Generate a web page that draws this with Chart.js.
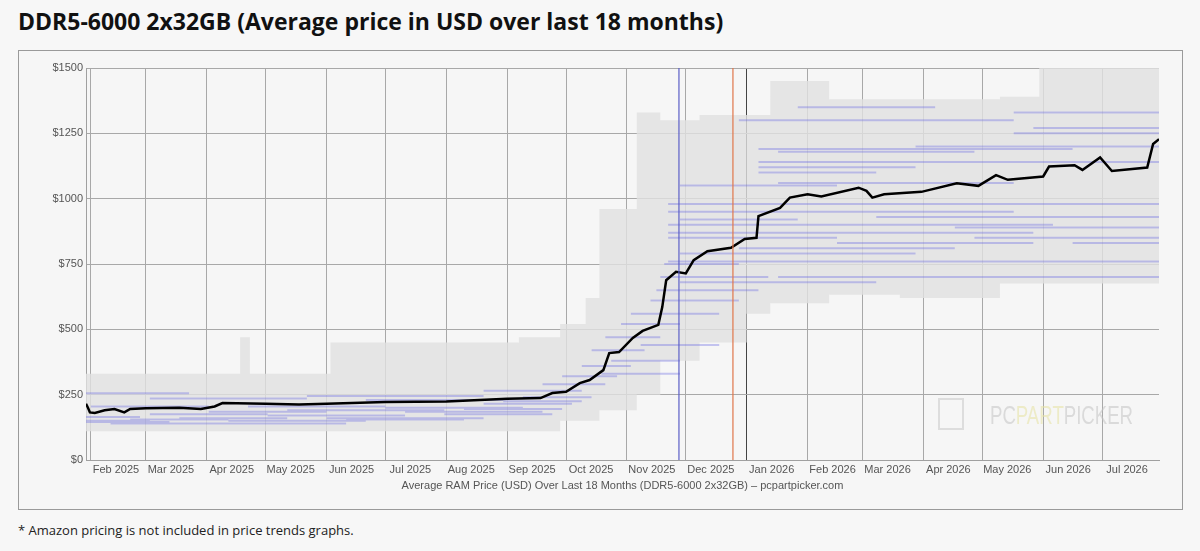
<!DOCTYPE html>
<html>
<head>
<meta charset="utf-8">
<script src="https://cdn.jsdelivr.net/npm/chart.js@4"></script>
<style>
  body { margin: 0; background: #f7f7f7; font-family: "Open Sans", sans-serif; }
  h1 { position: absolute; left: 18px; top: 5px; margin: 0; font-size: 23px; font-weight: 700; color: #111; }
  #box { position: absolute; left: 18px; top: 50px; width: 1163px; height: 458px; border: 1px solid #9a9a9a; background: #f6f6f6; }
  #note { position: absolute; left: 18px; top: 521px; font-size: 13px; color: #222; }
</style>
</head>
<body>
<h1>DDR5-6000 2x32GB (Average price in USD over last 18 months)</h1>
<div id="box"><canvas id="c" width="1163" height="458"></canvas></div>
<div id="note">* Amazon pricing is not included in price trends graphs.</div>
<script>
// x values are days since 1 Feb 2025
const monthDays = [0, 28, 59, 89, 120, 150, 181, 212, 242, 273, 303, 334, 365, 393, 424, 454, 485, 515];
const monthLabels = ['Feb 2025', 'Mar 2025', 'Apr 2025', 'May 2025', 'Jun 2025', 'Jul 2025', 'Aug 2025', 'Sep 2025',
  'Oct 2025', 'Nov 2025', 'Dec 2025', 'Jan 2026', 'Feb 2026', 'Mar 2026', 'Apr 2026', 'May 2026', 'Jun 2026', 'Jul 2026'];
const yTicks = [0, 250, 500, 750, 1000, 1250, 1500];

const avgDays = [-2.5, -1.5, -0.5, 2, 7, 12, 17, 20, 28, 45, 56, 63, 67, 89, 106, 120, 150, 181, 212, 229, 235, 242, 249,
  254, 261, 264, 269, 276, 281, 289, 291, 293, 298, 303, 307, 314, 326, 333, 339, 340, 351, 356, 365, 372, 391, 395, 398, 404,
  423, 441, 452, 461, 467, 485, 488, 501, 505, 514, 520, 538, 541, 544];
const avgPrice = [215, 200, 182, 180, 190, 195, 182, 195, 198, 200, 195, 205, 218, 215, 212, 215, 222, 224, 234, 237, 256,
  261, 294, 306, 344, 409, 413, 467, 494, 517, 585, 688, 720, 714, 765, 799, 812, 846, 850, 933, 965, 1004, 1017, 1008,
  1042, 1030, 1004, 1017, 1026, 1059, 1049, 1090, 1072, 1085, 1123, 1128, 1110, 1158, 1106, 1119, 1209, 1228];

// price range envelope (step changes)
const bandDays = [-2.5, 20, 63, 76, 81, 122, 218, 239, 252, 259, 267, 278, 290, 310, 334, 346, 376, 412, 463, 483, 544];
const bandMax = [330, 330, 330, 470, 330, 450, 470, 520, 620, 960, 960, 1330, 1300, 1320, 1320, 1450, 1380, 1380, 1390, 1500, 1500];
const bandMin = [110, 110, 110, 110, 110, 110, 110, 150, 150, 190, 190, 250, 380, 450, 560, 600, 632, 620, 675, 675, 675];

// individual listing prices: [start day, end day, price]
const listings = [
  [-2.5, 30, 150], [-2.5, 25, 165], [10, 60, 140], [30, 90, 175], [60, 120, 185], [90, 160, 170], [100, 180, 190],
  [120, 200, 160], [150, 220, 200], [180, 235, 175], [200, 245, 215], [-2.5, 50, 255], [30, 110, 235], [110, 200, 245],
  [-2.5, 40, 145], [20, 70, 155], [45, 100, 160], [70, 140, 150], [130, 190, 155], [160, 230, 185], [190, 240, 195],
  [80, 150, 205], [140, 210, 230], [210, 250, 225], [60, 130, 140], [0, 60, 205], [220, 255, 240],
  [200, 250, 265], [230, 262, 290], [240, 268, 320], [250, 275, 360], [255, 282, 420], [262, 290, 470], [270, 300, 520],
  [275, 320, 560], [285, 330, 610], [288, 340, 650], [290, 345, 700], [292, 330, 750], [294, 500, 760], [300, 420, 790],
  [294, 380, 850], [294, 480, 870], [294, 490, 900], [294, 470, 950], [294, 544, 980], [340, 400, 1100], [340, 544, 1140],
  [340, 500, 1190], [420, 544, 1200], [480, 544, 1270], [470, 544, 1250], [350, 450, 1180], [450, 544, 850],
  [500, 544, 830], [300, 400, 680], [330, 544, 760], [340, 420, 1120], [400, 544, 930], [300, 380, 1050],
  [350, 470, 1060], [330, 440, 810], [380, 480, 830], [440, 544, 890], [300, 360, 920], [360, 430, 1350],
  [330, 470, 1300], [470, 544, 1330], [260, 300, 330], [265, 300, 380], [280, 320, 440], [350, 544, 700]
];

const markerBlue = 299.5;
const markerOrange = 327;

function steps(days, vals) {
  const out = [];
  for (let i = 0; i < days.length - 1; i++) {
    out.push({ x: days[i], y: vals[i] }, { x: days[i + 1], y: vals[i] });
  }
  return out;
}
const listingPts = [];
listings.forEach(([a, b, p]) => {
  listingPts.push({ x: a, y: p }, { x: b, y: p }, { x: b, y: null });
});

const watermark = {
  id: 'watermark',
  afterDatasetsDraw(chart) {
    const ctx = chart.ctx;
    ctx.save();
    ctx.strokeStyle = 'rgba(190,190,190,0.45)';
    ctx.lineWidth = 2;
    ctx.strokeRect(920, 348, 24, 30);
    ctx.font = '26px "Liberation Sans", sans-serif';
    ctx.textBaseline = 'middle';
    const parts = [['PC', 'rgba(195,195,195,0.55)'], ['PART', 'rgba(230,225,160,0.55)'], ['PICKER', 'rgba(195,195,195,0.55)']];
    const total = ctx.measureText('PCPARTPICKER').width;
    ctx.translate(971, 366);
    ctx.scale(143 / total, 1);
    let w = 0;
    parts.forEach(([t, c]) => { ctx.fillStyle = c; ctx.fillText(t, w, 0); w += ctx.measureText(t).width; });
    ctx.restore();
  }
};

new Chart(document.getElementById('c'), {
  type: 'line',
  data: {
    datasets: [
      { data: [{ x: markerBlue, y: 0 }, { x: markerBlue, y: 1500 }], borderColor: '#5b5fc7', borderWidth: 1.2, pointRadius: 0 },
      { data: [{ x: markerOrange, y: 0 }, { x: markerOrange, y: 1500 }], borderColor: '#e0764a', borderWidth: 1.2, pointRadius: 0 },
      { data: avgDays.map((d, i) => ({ x: d, y: avgPrice[i] })), borderColor: '#000', borderWidth: 2.5, pointRadius: 0 },
      { data: listingPts, borderColor: 'rgba(100,100,225,0.35)', borderWidth: 2, pointRadius: 0, spanGaps: false },
      { data: steps(bandDays, bandMax), borderColor: 'rgba(0,0,0,0)', pointRadius: 0, fill: '+1', backgroundColor: 'rgba(225,225,225,0.8)' },
      { data: steps(bandDays, bandMin), borderColor: 'rgba(0,0,0,0)', pointRadius: 0 }
    ]
  },
  options: {
    animation: false,
    responsive: false,
    layout: { padding: { top: 17, right: 23, left: 0, bottom: 12 } },
    plugins: { legend: { display: false }, tooltip: { enabled: false } },
    scales: {
      x: {
        type: 'linear', min: -2.5, max: 544,
        afterBuildTicks: (s) => { s.ticks = monthDays.map(v => ({ value: v })); },
        afterFit: (s) => { s.height = 37; },
        ticks: {
          callback: (v, i) => monthLabels[i], autoSkip: false, maxRotation: 0, labelOffset: 25,
          color: '#555', font: { family: 'Liberation Sans', size: 11 }, padding: 3
        },
        grid: { color: (c) => (c.tick && c.tick.value === 334 ? '#444' : '#a8a8a8'), drawTicks: false },
        border: { color: '#a0a0a0' },
        title: {
          display: true, text: 'Average RAM Price (USD) Over Last 18 Months (DDR5-6000 2x32GB) \u2013 pcpartpicker.com',
          color: '#555', font: { family: 'Liberation Sans', size: 11 }, padding: { top: 2 }
        }
      },
      y: {
        min: 0, max: 1500,
        afterBuildTicks: (s) => { s.ticks = yTicks.map(v => ({ value: v })); },
        afterFit: (s) => { s.width = 67; },
        ticks: { callback: (v) => '$' + v, color: '#555', font: { family: 'Liberation Sans', size: 11 }, padding: 3 },
        grid: { color: '#a8a8a8', drawTicks: false },
        border: { color: '#a0a0a0' }
      }
    }
  },
  plugins: [watermark]
});
</script>
</body>
</html>
